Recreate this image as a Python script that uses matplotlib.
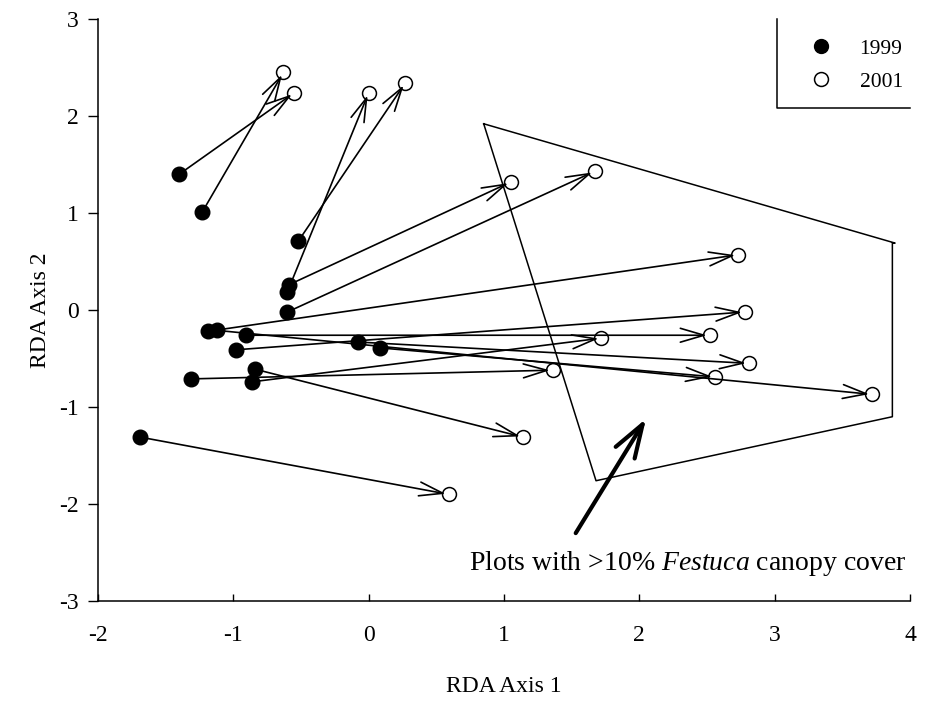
import matplotlib
matplotlib.use('Agg')
import matplotlib.pyplot as plt
from matplotlib.lines import Line2D

plt.rcParams['font.family'] = ['Liberation Serif', 'DejaVu Serif']
plt.rcParams['mathtext.fontset'] = 'custom'
plt.rcParams['mathtext.rm'] = 'Liberation Serif'
plt.rcParams['mathtext.it'] = 'Liberation Serif:italic'
plt.rcParams['axes.unicode_minus'] = False

# RDA scores, 1999 -> 2001 for each plot
x1999 = [-1.40, -1.23, -0.52, -0.59, -0.60, -0.60, -1.19, -1.12,
         -0.91, -0.98, -0.84, -0.86, -1.31, -0.08, 0.08, -1.69]
y1999 = [1.40, 1.01, 0.71, 0.26, 0.19, -0.02, -0.22, -0.21,
         -0.26, -0.41, -0.61, -0.74, -0.71, -0.33, -0.39, -1.31]
x2001 = [-0.55, -0.63, 0.27, 1.05, 0.00, 1.67, 2.73, 3.72,
         2.52, 2.78, 1.14, 1.72, 1.36, 2.81, 2.56, 0.59]
y2001 = [2.24, 2.45, 2.34, 1.32, 2.24, 1.43, 0.57, -0.87,
         -0.26, -0.02, -1.31, -0.29, -0.62, -0.55, -0.69, -1.90]

# polygon round plots with >10% Festuca cover
hull_x = [0.85, 3.89, 3.87, 3.87, 1.68, 0.85]
hull_y = [1.92, 0.69, 0.69, -1.10, -1.76, 1.92]

note = 'Plots with >10% $\\it{Festuca}$ canopy cover'
note_arrow = ((1.53, -2.30), (2.05, -1.12))

fig = plt.figure(figsize=(9.31, 7.10), dpi=100)
ax = fig.add_axes([0.1053, 0.1535, 0.8721, 0.8197])

for a, b, c, d in zip(x1999, y1999, x2001, y2001):
	ax.annotate('', xy=(c, d), xytext=(a, b),
	            arrowprops=dict(arrowstyle='->,head_length=1.7,head_width=0.5',
	                            lw=1.2, color='black', shrinkA=0, shrinkB=2,
	                            mutation_scale=10), zorder=2)

ax.plot(hull_x, hull_y, color='black', lw=1.1, zorder=1)

ax.plot(x2001, y2001, 'o', ms=10, mfc='none', mec='black', mew=1.1, zorder=3)
ax.plot(x1999, y1999, 'o', ms=10.5, mfc='black', mec='black', zorder=4)

ax.annotate('', xy=note_arrow[1], xytext=note_arrow[0],
            arrowprops=dict(arrowstyle='->,head_length=2.4,head_width=0.8',
                            lw=3, color='black', shrinkA=0, shrinkB=0,
                            mutation_scale=10))
ax.text(0.74, -2.61, note, fontsize=20, ha='left', va='center')

ax.set_xlim(-2, 4)
ax.set_ylim(-3, 3)
ax.set_xticks([-2, -1, 0, 1, 2, 3, 4])
ax.set_yticks([-3, -2, -1, 0, 1, 2, 3])
ax.spines['top'].set_visible(False)
ax.spines['right'].set_visible(False)
ax.spines['left'].set_linewidth(1.1)
ax.spines['bottom'].set_linewidth(1.1)
ax.tick_params(axis='x', direction='in', length=5, width=1, labelsize=17, pad=17)
ax.tick_params(axis='y', direction='out', length=7, width=1, labelsize=17, pad=7)
ax.set_xlabel('RDA Axis 1', fontsize=17, labelpad=22)
ax.set_ylabel('RDA Axis 2', fontsize=17, labelpad=6)

# legend box: only left and bottom edges drawn
handles = [Line2D([], [], ls='none', marker='o', ms=10, mfc='black', mec='black'),
           Line2D([], [], ls='none', marker='o', ms=10, mfc='none', mec='black', mew=1.1)]
ax.legend(handles, ['1999', '2001'], loc='upper left', bbox_to_anchor=(0.877, 0.966),
          frameon=False, fontsize=15.5, handlelength=1.0, handletextpad=1.3,
          labelspacing=0.6, borderpad=0, borderaxespad=0)
ax.add_line(Line2D([0.836, 0.836, 1.0], [1.0, 0.847, 0.847], transform=ax.transAxes,
                   color='black', lw=1.1, clip_on=False))

fig.savefig('out.png', dpi=100)
